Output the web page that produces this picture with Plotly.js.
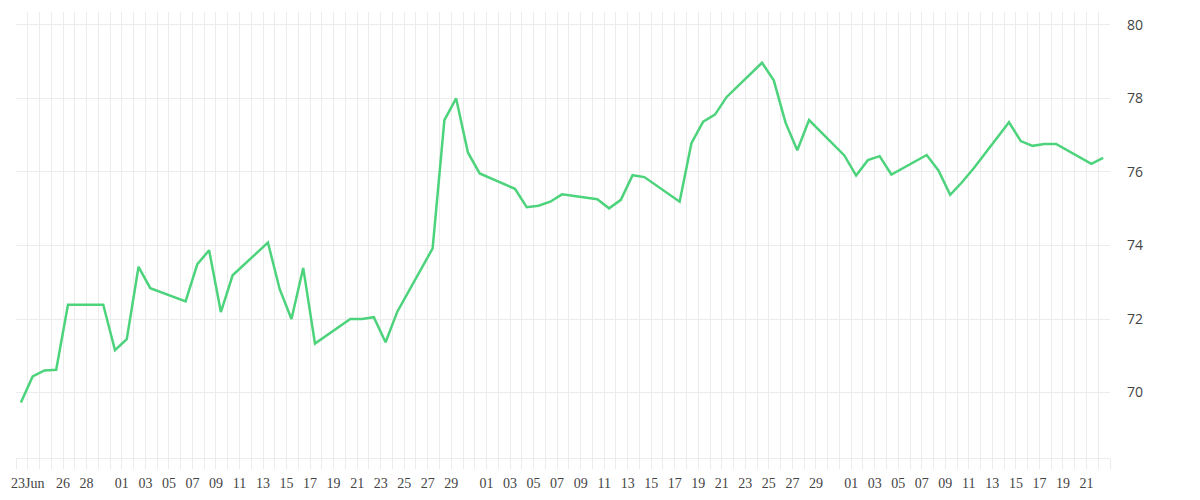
<!DOCTYPE html>
<html>
<head>
<meta charset="utf-8">
<script src="https://cdn.plot.ly/plotly-3.0.1.min.js"></script>
<style>
  html, body { margin: 0; padding: 0; background: #fff; }
  #chart { width: 1200px; height: 500px; }
</style>
</head>
<body>
<div id="chart"></div>
<script>
// trading days (weekdays only)
var dates = [
  '2020-06-22', '2020-06-23', '2020-06-24', '2020-06-25', '2020-06-26',
  '2020-06-29', '2020-06-30', '2020-07-01', '2020-07-02', '2020-07-03',
  '2020-07-06', '2020-07-07', '2020-07-08', '2020-07-09', '2020-07-10',
  '2020-07-13', '2020-07-14', '2020-07-15', '2020-07-16', '2020-07-17',
  '2020-07-20', '2020-07-21', '2020-07-22', '2020-07-23', '2020-07-24',
  '2020-07-27', '2020-07-28', '2020-07-29', '2020-07-30', '2020-07-31',
  '2020-08-03', '2020-08-04', '2020-08-05', '2020-08-06', '2020-08-07',
  '2020-08-10', '2020-08-11', '2020-08-12', '2020-08-13', '2020-08-14',
  '2020-08-17', '2020-08-18', '2020-08-19', '2020-08-20', '2020-08-21',
  '2020-08-24', '2020-08-25', '2020-08-26', '2020-08-27', '2020-08-28',
  '2020-08-31', '2020-09-01', '2020-09-02', '2020-09-03', '2020-09-04',
  '2020-09-07', '2020-09-08', '2020-09-09', '2020-09-10', '2020-09-11',
  '2020-09-14', '2020-09-15', '2020-09-16', '2020-09-17', '2020-09-18',
  '2020-09-21', '2020-09-22'
];

var values = [
  69.73, 70.44, 70.60, 70.62, 72.39,
  72.39, 71.15, 71.45, 73.42, 72.84,
  72.48, 73.49, 73.87, 72.19, 73.19,
  74.08, 72.81, 72.00, 73.39, 71.33,
  72.00, 72.00, 72.05, 71.37, 72.20,
  73.92, 77.41, 78.00, 76.53, 75.96,
  75.54, 75.04, 75.08, 75.19, 75.39,
  75.26, 75.01, 75.24, 75.91, 75.86,
  75.19, 76.78, 77.37, 77.56, 78.04,
  78.97, 78.49, 77.34, 76.59, 77.41,
  76.45, 75.90, 76.32, 76.43, 75.93,
  76.46, 76.04, 75.38, 75.72, 76.10,
  77.35, 76.84, 76.71, 76.76, 76.76,
  76.22, 76.38
];

var tickDates = [
  '2020-06-23', '2020-06-26', '2020-06-28',
  '2020-07-01', '2020-07-03', '2020-07-05', '2020-07-07', '2020-07-09',
  '2020-07-11', '2020-07-13', '2020-07-15', '2020-07-17', '2020-07-19',
  '2020-07-21', '2020-07-23', '2020-07-25', '2020-07-27', '2020-07-29',
  '2020-08-01', '2020-08-03', '2020-08-05', '2020-08-07', '2020-08-09',
  '2020-08-11', '2020-08-13', '2020-08-15', '2020-08-17', '2020-08-19',
  '2020-08-21', '2020-08-23', '2020-08-25', '2020-08-27', '2020-08-29',
  '2020-09-01', '2020-09-03', '2020-09-05', '2020-09-07', '2020-09-09',
  '2020-09-11', '2020-09-13', '2020-09-15', '2020-09-17', '2020-09-19',
  '2020-09-21'
];

var tickText = [
  '23Jun', '26', '28',
  '01', '03', '05', '07', '09', '11', '13', '15', '17', '19', '21', '23', '25', '27', '29',
  '01', '03', '05', '07', '09', '11', '13', '15', '17', '19', '21', '23', '25', '27', '29',
  '01', '03', '05', '07', '09', '11', '13', '15', '17', '19', '21'
];

var gridCol = '#ececec';

var trace = {
  x: dates.map(function (d) { return d + ' 10:00'; }),
  y: values,
  type: 'scatter',
  mode: 'lines',
  line: { color: '#4cd37c', width: 2.5 },
  hoverinfo: 'x+y'
};

var layout = {
  width: 1200,
  height: 500,
  margin: { l: 16, r: 90, t: 12, b: 42 },
  paper_bgcolor: '#fff',
  plot_bgcolor: '#fff',
  showlegend: false,
  xaxis: {
    type: 'date',
    range: ['2020-06-22', '2020-09-23'],
    tickmode: 'array',
    tickvals: tickDates,
    ticktext: tickText,
    ticks: 'outside',
    ticklen: 10,
    tickcolor: gridCol,
    ticklabelstandoff: 2,
    showgrid: true,
    gridcolor: gridCol,
    zeroline: false,
    showline: true,
    linecolor: gridCol,
    tickfont: { family: 'Liberation Serif', size: 14, color: '#444' },
    minor: {
      tick0: '2020-06-22',
      dtick: 86400000,
      ticks: 'outside',
      ticklen: 10,
      tickcolor: gridCol,
      showgrid: true,
      gridcolor: gridCol
    }
  },
  yaxis: {
    side: 'right',
    range: [68.22, 80.35],
    tick0: 0,
    dtick: 2,
    showgrid: true,
    gridcolor: gridCol,
    zeroline: false,
    ticks: '',
    ticklabelstandoff: 16,
    tickfont: { family: 'Open Sans', size: 14, color: '#444' }
  }
};

Plotly.newPlot('chart', [trace], layout, { displayModeBar: false, staticPlot: true });
</script>
</body>
</html>
